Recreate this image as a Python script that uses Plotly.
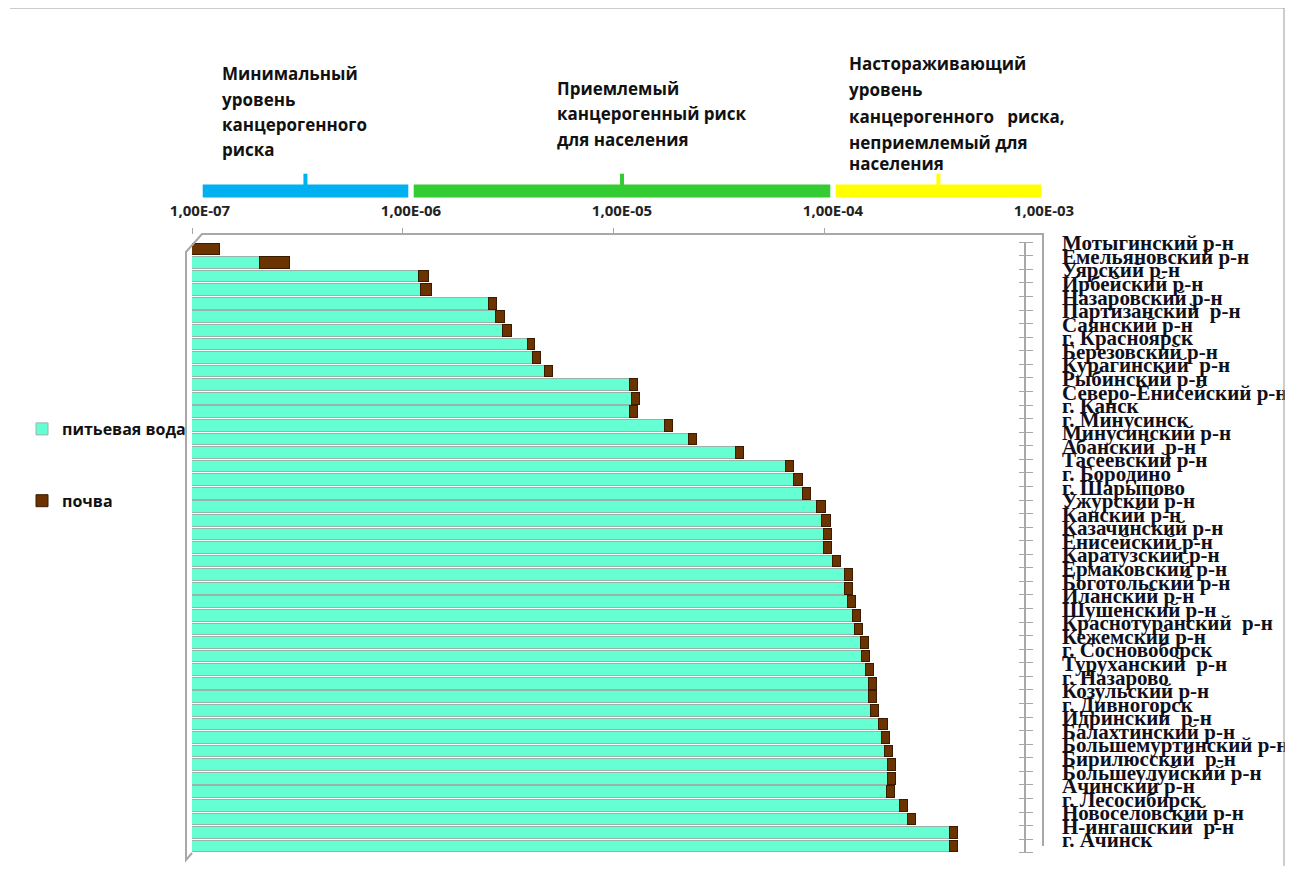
import plotly.graph_objects as go

W, H = 1293, 871

# районы сверху вниз
districts = [
    "Мотыгинский р-н", "Емельяновский р-н", "Уярский р-н", "Ирбейский р-н",
    "Назаровский р-н", "Партизанский  р-н", "Саянский р-н", "г. Красноярск",
    "Березовский р-н", "Курагинский  р-н", "Рыбинский р-н", "Северо-Енисейский р-н",
    "г. Канск", "г. Минусинск", "Минусинский р-н", "Абанский  р-н",
    "Тасеевский р-н", "г. Бородино", "г. Шарыпово", "Ужурский р-н",
    "Канский р-н", "Казачинский р-н", "Енисейский р-н", "Каратузский р-н",
    "Ермаковский р-н", "Боготольский р-н", "Иланский р-н", "Шушенский р-н",
    "Краснотуранский  р-н", "Кежемский р-н", "г. Сосновоборск", "Туруханский  р-н",
    "г. Назарово", "Козульский р-н", "г. Дивногорск", "Идринский  р-н",
    "Балахтинский р-н", "Большемуртинский р-н", "Бирилюсский  р-н", "Большеулуйский р-н",
    "Ачинский р-н", "г. Лесосибирск", "Новоселовский р-н", "Н-ингашский  р-н",
    "г. Ачинск",
]

water = [
    0, 2.10e-7, 1.178e-6, 1.217e-6,
    2.556e-6, 2.759e-6, 2.978e-6, 3.870e-6,
    4.131e-6, 4.709e-6, 1.178e-5, 1.204e-5,
    1.178e-5, 1.726e-5, 2.243e-5, 3.786e-5,
    6.464e-5, 7.131e-5, 7.866e-5, 9.165e-5,
    9.679e-5, 9.891e-5, 9.85e-5, 1.080e-4,
    1.244e-4, 1.244e-4, 1.272e-4, 1.357e-4,
    1.387e-4, 1.481e-4, 1.497e-4, 1.564e-4,
    1.616e-4, 1.616e-4, 1.652e-4, 1.803e-4,
    1.843e-4, 1.924e-4, 1.989e-4, 1.989e-4,
    1.967e-4, 2.267e-4, 2.474e-4, 3.912e-4,
    3.912e-4,
]

soil = [
    1.357e-7, 0.81e-7, 1.36e-7, 1.55e-7,
    2.33e-7, 2.52e-7, 2.72e-7, 3.53e-7,
    3.77e-7, 4.30e-7, 1.08e-6, 1.10e-6,
    1.08e-6, 1.58e-6, 2.05e-6, 3.46e-6,
    5.90e-6, 6.51e-6, 7.18e-6, 8.37e-6,
    8.84e-6, 9.03e-6, 8.99e-6, 9.86e-6,
    1.136e-5, 1.136e-5, 1.161e-5, 1.239e-5,
    1.266e-5, 1.352e-5, 1.367e-5, 1.428e-5,
    1.475e-5, 1.475e-5, 1.508e-5, 1.646e-5,
    1.683e-5, 1.757e-5, 1.816e-5, 1.816e-5,
    1.796e-5, 2.070e-5, 2.259e-5, 3.572e-5,
    3.572e-5,
]

# шкала уровней риска
band_edges = [1e-7, 1e-6, 1e-4, 1e-3]
band_colors = ["#00b0f0", "#33cc33", "#ffff00"]
band_marks = [3.16e-7, 1e-5, 3.16e-4]
scale_ticks = [1e-7, 1e-6, 1e-5, 1e-4, 1e-3]
scale_labels = ["1,00E-07", "1,00E-06", "1,00E-05", "1,00E-04", "1,00E-03"]

level_texts = [
    (220, ["Минимальный", "уровень", "канцерогенного", "риска"], [74, 100, 125, 150]),
    (555, ["Приемлемый", "канцерогенный риск", "для населения"], [88, 114, 140]),
    (847, ["Настораживающий", "уровень", "канцерогенного   риска,", "неприемлемый для", "населения"],
     [64, 90, 116, 142, 164]),
]

SANS = "Open Sans"


# page has an 8px body margin, so shift everything by it
def px(x):
    return (x - 8) / W


def py(y):
    return 1 - (y - 8) / H


fig = go.Figure()

fig.add_trace(go.Bar(
    y=districts, x=water, orientation="h", name="питьевая вода",
    legendgroup="w", width=0.86,
    marker=dict(color="#66ffd4", line=dict(color="#9ab3aa", width=1)),
))
fig.add_trace(go.Bar(
    y=districts, x=soil, orientation="h", name="почва",
    legendgroup="s", width=0.86,
    marker=dict(color="#6b3300", line=dict(color="#3a1a00", width=1)),
))

# ticks on the other side of the category axis, and the labels (sit a bit higher)
for ax in ("y3", "y4"):
    fig.add_trace(go.Scatter(
        y=districts, x=[None] * len(districts), xaxis="x", yaxis=ax,
        showlegend=False, hoverinfo="skip",
    ))

for i, c in enumerate(band_colors):
    fig.add_trace(go.Scatter(
        x=[band_edges[i] * 1.03, band_edges[i + 1] / 1.03], y=[0.3, 0.3],
        mode="lines", line=dict(color=c, width=13),
        xaxis="x2", yaxis="y2", showlegend=False, hoverinfo="skip",
    ))
    fig.add_trace(go.Scatter(
        x=[band_marks[i]], y=[0.62], mode="markers",
        marker=dict(symbol="line-ns", size=11, line=dict(color=c, width=4)),
        xaxis="x2", yaxis="y2", showlegend=False, hoverinfo="skip",
    ))

annotations = []
for x0, lines, ys in level_texts:
    for t, y0 in zip(lines, ys):
        annotations.append(dict(
            x=px(x0), y=py(y0), xref="paper", yref="paper", text=t,
            showarrow=False, xanchor="left", yanchor="middle",
            font=dict(family=SANS, size=17, color="#111111", weight="bold"),
        ))

grey = "#a8a8a8"
shapes = [
    # рамка
    dict(type="line", x0=px(10), x1=px(1284), y0=py(8), y1=py(8),
         xref="paper", yref="paper", line=dict(color="#9a9a9a", width=1)),
    dict(type="line", x0=px(1284), x1=px(1284), y0=py(8), y1=py(866),
         xref="paper", yref="paper", line=dict(color="#9a9a9a", width=1)),
    # стенки
    dict(type="path", path=f"M {px(192)} {py(853)} L {px(186)} {py(860)} L {px(186)} {py(252)} "
                           f"L {px(202)} {py(234)} L {px(1043)} {py(234)} L {px(1043)} {py(846)}",
         xref="paper", yref="paper", line=dict(color=grey, width=2)),
]

cat_axis = dict(
    type="category", categoryorder="array", categoryarray=districts,
    tickmode="array", tickvals=districts,
    range=[44.5, -0.5], anchor="free", position=px(1025), automargin=False,
    showgrid=False,
)

fig.update_layout(
    width=W, height=H,
    margin=dict(l=0, r=0, t=0, b=0, autoexpand=False),
    paper_bgcolor="white", plot_bgcolor="rgba(0,0,0,0)",
    barmode="stack", bargap=0.14,
    font=dict(family=SANS, color="#111111"),
    xaxis=dict(
        type="log", range=[-7, -3.052], domain=[px(192), px(1025)],
        anchor="free", position=py(234), side="top", automargin=False,
        showgrid=False, zeroline=False, showline=False,
        ticks="outside", ticklen=6, tickcolor=grey, dtick=1,
        showticklabels=False,
    ),
    yaxis=dict(
        cat_axis, domain=[py(852.8), py(242.2)], side="right",
        showline=True, linecolor=grey, linewidth=2,
        ticks="outside", ticklen=7, tickcolor=grey, tickson="boundaries",
        showticklabels=False,
    ),
    yaxis3=dict(
        cat_axis, domain=[py(852.8), py(242.2)], overlaying="y", side="left",
        showline=False, ticks="outside", ticklen=6, tickcolor=grey,
        tickson="boundaries", showticklabels=False,
    ),
    yaxis4=dict(
        cat_axis, domain=[py(846.8), py(236.2)], side="right",
        showline=False, ticks="", ticklabelstandoff=36,
        tickfont=dict(family="Liberation Serif", size=21, color="#10101c", weight="bold"),
    ),
    xaxis2=dict(
        type="log", range=[-7, -3], domain=[px(200), px(1044)], anchor="y2",
        automargin=False,
        showgrid=False, zeroline=False, showline=False, ticks="",
        tickvals=scale_ticks, ticktext=scale_labels,
        tickfont=dict(family=SANS, size=15, color="#222222", weight="bold"),
    ),
    yaxis2=dict(
        range=[0, 1], domain=[py(200), py(170)], anchor="x2",
        visible=False,
    ),
    legend=dict(
        x=px(22), y=py(412), xanchor="left", yanchor="top",
        traceorder="grouped", tracegroupgap=48,
        font=dict(family=SANS, size=16, color="#111111", weight="bold"),
        bgcolor="rgba(0,0,0,0)", itemwidth=30,
    ),
    annotations=annotations,
    shapes=shapes,
)

fig.write_html("out.html")
